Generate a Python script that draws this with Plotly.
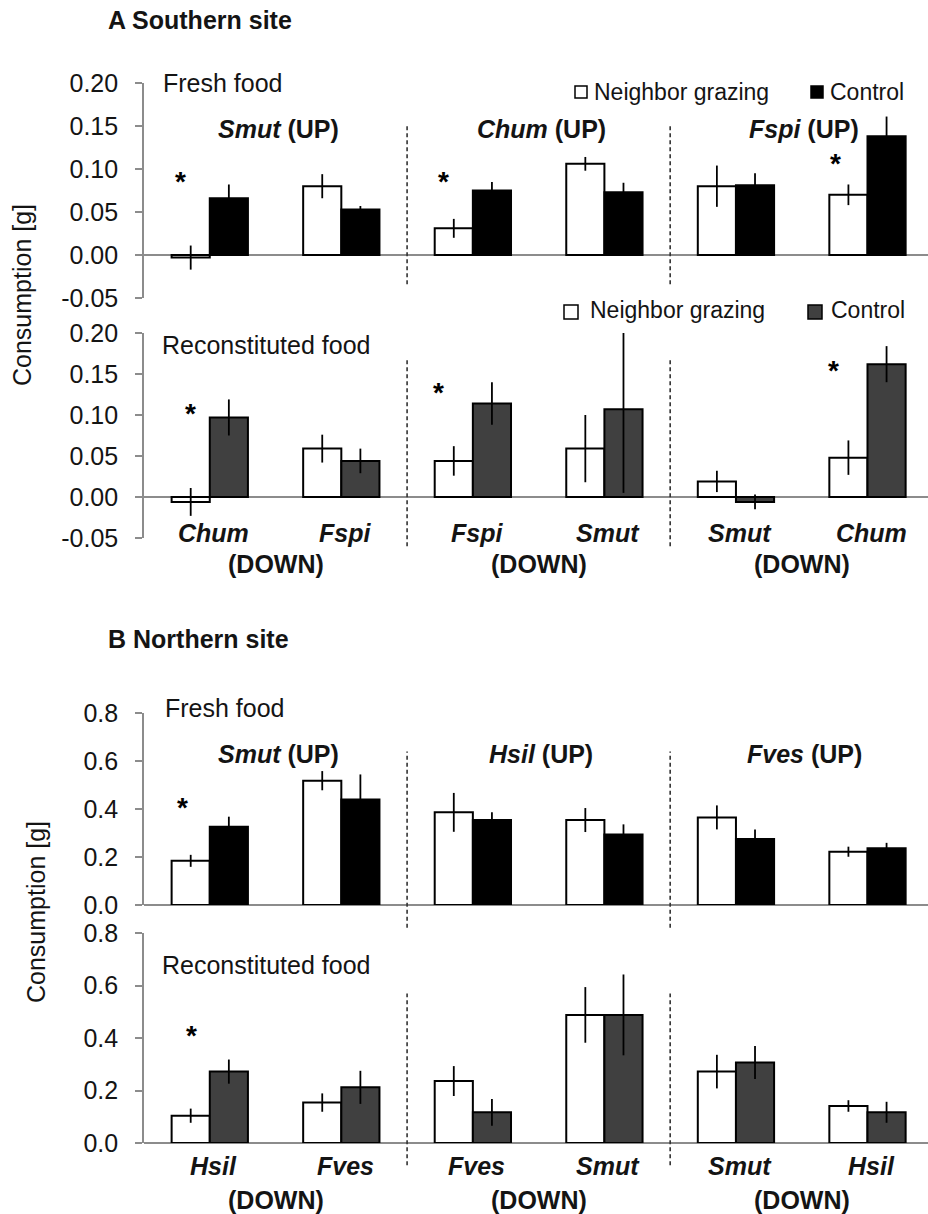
import plotly.graph_objects as go

W, H = 928, 1214

# ---------------- data ----------------
cats = [0, 1, 2, 3, 4, 5]

# A Southern site - fresh food
a_fresh_ng = [-0.003, 0.080, 0.031, 0.106, 0.080, 0.070]
a_fresh_ng_err = [0.014, 0.014, 0.011, 0.008, 0.024, 0.012]
a_fresh_ct = [0.066, 0.053, 0.075, 0.073, 0.081, 0.138]
a_fresh_ct_err = [0.016, 0.004, 0.010, 0.011, 0.014, 0.023]

# A Southern site - reconstituted food
a_rec_ng = [-0.006, 0.059, 0.044, 0.059, 0.019, 0.048]
a_rec_ng_err = [0.017, 0.017, 0.018, 0.041, 0.013, 0.021]
a_rec_ct = [0.097, 0.044, 0.114, 0.107, -0.006, 0.162]
a_rec_ct_err = [0.022, 0.015, 0.026, 0.102, 0.009, 0.022]

# B Northern site - fresh food
b_fresh_ng = [0.184, 0.518, 0.386, 0.354, 0.365, 0.222]
b_fresh_ng_err = [0.025, 0.040, 0.081, 0.050, 0.050, 0.021]
b_fresh_ct = [0.326, 0.440, 0.354, 0.294, 0.275, 0.236]
b_fresh_ct_err = [0.042, 0.104, 0.032, 0.042, 0.040, 0.023]

# B Northern site - reconstituted food
b_rec_ng = [0.104, 0.154, 0.236, 0.488, 0.272, 0.141]
b_rec_ng_err = [0.027, 0.035, 0.057, 0.106, 0.064, 0.022]
b_rec_ct = [0.272, 0.212, 0.117, 0.488, 0.307, 0.117]
b_rec_ct_err = [0.046, 0.063, 0.051, 0.154, 0.063, 0.040]

a_down_labels = ["Chum", "Fspi", "Fspi", "Smut", "Smut", "Chum"]
a_up_labels = ["Smut", "Chum", "Fspi"]
b_down_labels = ["Hsil", "Fves", "Fves", "Smut", "Smut", "Hsil"]
b_up_labels = ["Smut", "Hsil", "Fves"]

series_names = ["Neighbor grazing", "Control"]

a_y_ticks = [-0.05, 0.00, 0.05, 0.10, 0.15, 0.20]
a_y_ticktext = ["-0.05", "0.00", "0.05", "0.10", "0.15", "0.20"]
b_y_ticks = [0.0, 0.2, 0.4, 0.6, 0.8]
b_y_ticktext = ["0.0", "0.2", "0.4", "0.6", "0.8"]

# significance stars: (x position, y value)
stars_a_fresh = [(-0.22, 0.091), (1.78, 0.091), (4.76, 0.112)]
stars_a_rec = [(-0.15, 0.108), (1.74, 0.134), (4.74, 0.160)]
stars_b_fresh = [(-0.21, 0.425)]
stars_b_rec = [(-0.14, 0.430)]

# ---------------- styling ----------------
FONT = "Liberation Sans, Arial, sans-serif"
FS = 25
FS_LEG = 23
TXT = "#141414"
AX = "#8c8c8c"
BLACK = "#000000"
DARK = "#404040"


def py(p):
    return 1 - p / H


def pxx(p):
    return p / W


# pixel extents of panels (top, bottom)
panels = {
    "a_fresh": (83, 298, [-0.05, 0.20]),
    "a_rec": (333, 538, [-0.05, 0.20]),
    "b_fresh": (713, 905, [0.0, 0.8]),
    "b_rec": (933, 1143, [0.0, 0.8]),
}
order = ["a_fresh", "a_rec", "b_fresh", "b_rec"]
xrange_ = [-0.5, 5.46]
xdom = [pxx(144), 1.0]


def val2paper(key, v):
    top, bot, r = panels[key]
    frac = (v - r[0]) / (r[1] - r[0])
    return py(bot) + frac * (py(top) - py(bot))


fig = go.Figure()

data_sets = {
    "a_fresh": (a_fresh_ng, a_fresh_ng_err, a_fresh_ct, a_fresh_ct_err, BLACK),
    "a_rec": (a_rec_ng, a_rec_ng_err, a_rec_ct, a_rec_ct_err, DARK),
    "b_fresh": (b_fresh_ng, b_fresh_ng_err, b_fresh_ct, b_fresh_ct_err, BLACK),
    "b_rec": (b_rec_ng, b_rec_ng_err, b_rec_ct, b_rec_ct_err, DARK),
}

for i, key in enumerate(order):
    n = "" if i == 0 else str(i + 1)
    ng, ngE, ct, ctE, col = data_sets[key]
    for vals, errs, fill, name in [(ng, ngE, "white", series_names[0]),
                                   (ct, ctE, col, series_names[1])]:
        fig.add_trace(go.Bar(
            x=cats, y=vals, name=name, showlegend=False,
            marker=dict(color=fill, line=dict(color=BLACK, width=2)),
            error_y=dict(type="data", array=errs, visible=True,
                         color=BLACK, thickness=1.8, width=0),
            xaxis="x" + n, yaxis="y" + n,
        ))
    top, bot, r = panels[key]
    is_a = key.startswith("a")
    fig.layout["xaxis" + n] = dict(
        domain=xdom, range=xrange_, anchor="y" + n, automargin=False,
        showticklabels=False, showline=False, ticks="", showgrid=False,
        zeroline=False, fixedrange=True,
    )
    fig.layout["yaxis" + n] = dict(
        domain=[py(bot), py(top)], range=r, anchor="x" + n, automargin=False,
        tickvals=a_y_ticks if is_a else b_y_ticks,
        ticktext=a_y_ticktext if is_a else b_y_ticktext,
        showline=True, linecolor=AX, linewidth=1.6,
        ticks="outside", ticklen=7, tickcolor=AX, tickwidth=1.6,
        ticklabelstandoff=12,
        showgrid=False, zeroline=True, zerolinecolor=AX, zerolinewidth=2,
        tickfont=dict(family=FONT, size=FS, color=TXT),
    )

shapes = []
annotations = []

# dashed separators (in data units of each panel)
sep = {
    "a_fresh": (0.152, -0.034),
    "a_rec": (0.170, -0.060),
    "b_fresh": (0.640, -0.095),
    "b_rec": (0.570, -0.085),
}
for i, key in enumerate(order):
    n = "" if i == 0 else str(i + 1)
    y0, y1 = sep[key]
    for xs in (1.5, 3.5):
        shapes.append(dict(type="line", xref="x" + n, yref="paper",
                           x0=xs, x1=xs,
                           y0=val2paper(key, y1), y1=val2paper(key, y0),
                           line=dict(color="#333333", width=1.6, dash="4px,3px")))

# panel titles
annotations.append(dict(text="<b>A Southern site</b>", xref="paper", yref="paper",
                        x=pxx(106), y=py(20), xanchor="left", yanchor="middle",
                        showarrow=False, font=dict(family=FONT, size=FS, color=TXT)))
annotations.append(dict(text="<b>B Northern site</b>", xref="paper", yref="paper",
                        x=pxx(106), y=py(639), xanchor="left", yanchor="middle",
                        showarrow=False, font=dict(family=FONT, size=FS, color=TXT)))

# y titles
for xc, yc in [(22, 295), (36, 912)]:
    annotations.append(dict(text="Consumption [g]", xref="paper", yref="paper",
                            x=pxx(xc), y=py(yc), textangle=-90, showarrow=False,
                            xanchor="center", yanchor="middle",
                            font=dict(family=FONT, size=FS, color=TXT)))

# food labels
for label, xp, yp in [("Fresh food", 161, 83),
                      ("Reconstituted food", 160, 345),
                      ("Fresh food", 163, 708),
                      ("Reconstituted food", 160, 965)]:
    annotations.append(dict(text=label, xref="paper", yref="paper",
                            x=pxx(xp), y=py(yp), xanchor="left", yanchor="middle",
                            showarrow=False, font=dict(family=FONT, size=FS, color=TXT)))

# (UP) labels
for key, n, labels, yv in [("a_fresh", "", a_up_labels, 0.147), ("b_fresh", "3", b_up_labels, 0.63)]:
    for j, lab in enumerate(labels):
        annotations.append(dict(text=f"<b><i>{lab}</i> (UP)</b>", xref="x" + n, yref="paper",
                                x=2 * j + 0.52, y=val2paper(key, yv),
                                xanchor="center", yanchor="middle",
                                showarrow=False, font=dict(family=FONT, size=FS, color=TXT)))

# category + (DOWN) labels
for key, n, labels, ylab, ydown in [("a_rec", "2", a_down_labels, -0.044, -0.082),
                                    ("b_rec", "4", b_down_labels, -0.088, -0.218)]:
    for j, lab in enumerate(labels):
        annotations.append(dict(text=f"<b><i>{lab}</i></b>", xref="x" + n, yref="paper",
                                x=cats[j] + 0.03, y=val2paper(key, ylab),
                                xanchor="center", yanchor="middle",
                                showarrow=False, font=dict(family=FONT, size=FS, color=TXT)))
    for g in range(3):
        annotations.append(dict(text="<b>(DOWN)</b>", xref="x" + n, yref="paper",
                                x=2 * g + 0.5, y=val2paper(key, ydown),
                                xanchor="center", yanchor="middle",
                                showarrow=False, font=dict(family=FONT, size=FS, color=TXT)))

# stars
for n, stars in [("", stars_a_fresh), ("2", stars_a_rec), ("3", stars_b_fresh), ("4", stars_b_rec)]:
    for xs, ys in stars:
        annotations.append(dict(text="<b>*</b>", xref="x" + n, yref="y" + n,
                                x=xs, y=ys, xanchor="center", yanchor="middle", yshift=-5,
                                showarrow=False, font=dict(family=FONT, size=28, color=BLACK)))

# legends (A panels)
for (sq_w, sq_top, sq_bot, tx_ng, ty, sq2_x, tx_ct, ctcol, lw) in [
        ((575, 587), 86, 98, 592, 92, 811, 828, BLACK, 1.5),
        ((564, 578), 305, 319, 588, 310, 808, 829, DARK, 1.5)]:
    shapes.append(dict(type="rect", xref="paper", yref="paper",
                       x0=pxx(sq_w[0]), x1=pxx(sq_w[1]), y0=py(sq_bot), y1=py(sq_top),
                       fillcolor="white", line=dict(color=BLACK, width=lw)))
    shapes.append(dict(type="rect", xref="paper", yref="paper",
                       x0=pxx(sq2_x), x1=pxx(sq2_x + (sq_w[1] - sq_w[0])), y0=py(sq_bot), y1=py(sq_top),
                       fillcolor=ctcol, line=dict(color=BLACK, width=lw)))
    annotations.append(dict(text=series_names[0], xref="paper", yref="paper",
                            x=pxx(tx_ng), y=py(ty), xanchor="left", yanchor="middle",
                            showarrow=False, font=dict(family=FONT, size=FS_LEG, color=TXT)))
    annotations.append(dict(text=series_names[1], xref="paper", yref="paper",
                            x=pxx(tx_ct), y=py(ty), xanchor="left", yanchor="middle",
                            showarrow=False, font=dict(family=FONT, size=FS_LEG, color=TXT)))

fig.update_layout(
    template="none",
    width=W, height=H,
    margin=dict(l=0, r=0, t=0, b=0, pad=0, autoexpand=False),
    paper_bgcolor="white", plot_bgcolor="white",
    barmode="group", bargap=0.42, bargroupgap=0,
    showlegend=False,
    shapes=shapes, annotations=annotations,
    font=dict(family=FONT, size=FS, color=TXT),
)

fig.write_html("out.html", config={"displayModeBar": False},
               post_script="document.body.style.margin='0';document.body.style.overflow='hidden';")
